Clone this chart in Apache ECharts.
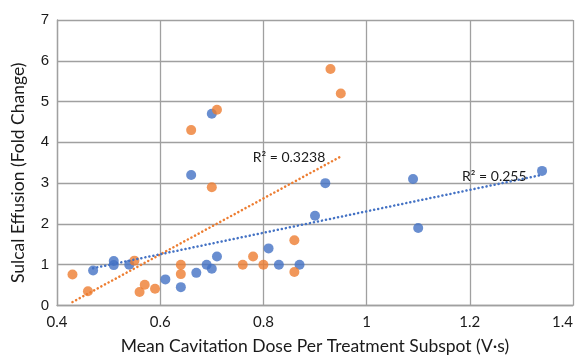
<!DOCTYPE html>
<html>
<head>
<meta charset="utf-8">
<script src="https://cdn.jsdelivr.net/npm/echarts@6/dist/echarts.min.js"></script>
<style>
html,body{margin:0;padding:0;background:#fff;}
#c{width:585px;height:356px;}
</style>
</head>
<body>
<div id="c"></div>
<script>
// Series 1 (blue)
const blueX = [0.47,0.51,0.51,0.54,0.61,0.64,0.66,0.67,0.69,0.70,0.70,0.71,0.81,0.83,0.87,0.90,0.92,1.09,1.10,1.34];
const blueY = [0.86,1.09,0.99,1.00,0.64,0.45,3.20,0.80,1.00,0.90,4.70,1.20,1.40,1.00,1.00,2.20,3.00,3.10,1.90,3.30];
// Series 2 (orange)
const orangeX = [0.43,0.46,0.55,0.56,0.57,0.59,0.64,0.64,0.66,0.70,0.71,0.76,0.78,0.80,0.86,0.86,0.93,0.95];
const orangeY = [0.76,0.35,1.10,0.33,0.51,0.41,1.00,0.77,4.30,2.90,4.80,1.00,1.20,1.00,1.60,0.82,5.80,5.20];
// Trendline labels
const blueR2 = 'R² = 0.255';
const orangeR2 = 'R² = 0.3238';
// Axis ticks
const xTicks = [0.4,0.6,0.8,1,1.2,1.4];
const yTicks = [0,1,2,3,4,5,6,7];
const xTitle = 'Mean Cavitation Dose Per Treatment Subspot (V·s)';
const yTitle = 'Sulcal Effusion (Fold Change)';

const BLUE = '#4472C4', ORANGE = '#ED7D31';

function pairs(xs, ys){ return xs.map((x,i)=>[x, ys[i]]); }
function linreg(xs, ys){
  const n = xs.length;
  const mx = xs.reduce((a,b)=>a+b,0)/n, my = ys.reduce((a,b)=>a+b,0)/n;
  let sxy=0, sxx=0;
  for(let i=0;i<n;i++){ sxy += (xs[i]-mx)*(ys[i]-my); sxx += (xs[i]-mx)**2; }
  const b = sxy/sxx, a = my - b*mx;
  const x0 = Math.min(...xs), x1 = Math.max(...xs);
  return [[x0, a+b*x0],[x1, a+b*x1]];
}
function trend(xs, ys, color, text, dist, dy){
  const pts = linreg(xs, ys);
  return {
    type:'line', data:[
      {value:pts[0]},
      {value:pts[1], label:{show:true, position:'left', distance:dist, offset:[0,dy], formatter:text,
        color:'#1a1a1a', fontFamily:'Lato', fontSize:14}}
    ],
    showSymbol:true, symbol:'circle', symbolSize:1, itemStyle:{color:'rgba(0,0,0,0)'},
    lineStyle:{color:color, width:2.5, type:[0.1,4], cap:'round'},
    z:5, silent:true, animation:false
  };
}

const chart = echarts.init(document.getElementById('c'), null, {renderer:'canvas'});
const gridColor = '#A0A0A0';
chart.setOption({
  animation:false,
  grid:{left:57, top:20, width:516, height:285.5, containLabel:false, outerBoundsMode:'none'},
  xAxis:{
    type:'value', min:xTicks[0], max:xTicks[xTicks.length-1], interval:0.2,
    axisLine:{show:true, lineStyle:{color:gridColor, width:1.3}},
    axisTick:{show:false},
    splitLine:{show:true, lineStyle:{color:gridColor, width:1.3}},
    axisLabel:{color:'#1a1a1a', fontFamily:'Lato', fontSize:15, margin:9, alignMaxLabel:'right',
      formatter:(v)=>String(+v.toFixed(1))},
    name:xTitle, nameLocation:'middle', nameGap:32,
    nameTextStyle:{color:'#1a1a1a', fontFamily:'Lato', fontSize:17.5}
  },
  yAxis:{
    type:'value', min:yTicks[0], max:yTicks[yTicks.length-1], interval:1,
    axisLine:{show:true, lineStyle:{color:gridColor, width:1.3}},
    axisTick:{show:false},
    splitLine:{show:true, lineStyle:{color:gridColor, width:1.3}},
    axisLabel:{color:'#1a1a1a', fontFamily:'Liberation Sans', fontSize:15, margin:8},
    name:yTitle, nameLocation:'middle', nameGap:30,
    nameTextStyle:{color:'#1a1a1a', fontFamily:'Lato', fontSize:17.5, padding:[0,20,0,0]}
  },
  series:[
    {type:'scatter', data:pairs(blueX, blueY), symbolSize:10, itemStyle:{color:BLUE}, z:3},
    {type:'scatter', data:pairs(orangeX, orangeY), symbolSize:10, itemStyle:{color:ORANGE}, z:3},
    trend(orangeX, orangeY, ORANGE, orangeR2, 15, 1),
    trend(blueX, blueY, BLUE, blueR2, 15, 2)
  ]
});
</script>
</body>
</html>
